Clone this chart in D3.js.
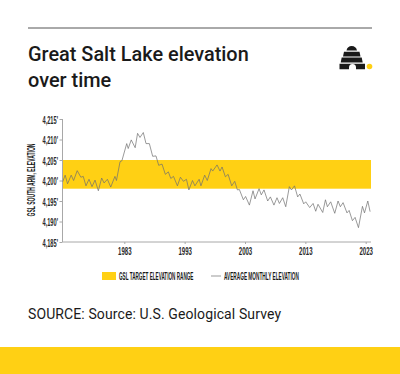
<!DOCTYPE html>
<html>
<head>
<meta charset="utf-8">
<script src="https://cdnjs.cloudflare.com/ajax/libs/d3/7.8.5/d3.min.js"></script>
<style>
    body { margin: 0; background: #fff; }
    svg { display: block; }
    text { fill: #1a1a1a; }
    .narrow { font-family: "Liberation Sans", sans-serif; font-weight: bold; }
</style>
</head>
<body>
<div id="chart"></div>
<script>
const titleLines = ['Great Salt Lake elevation', 'over time'];
const sourceText = 'SOURCE: Source: U.S. Geological Survey';
const yTicks = [4185, 4190, 4195, 4200, 4205, 4210, 4215];
const xTicks = [1983, 1993, 2003, 2013, 2023];
const targetRange = [4198, 4205];
const legendLabels = ['GSL TARGET ELEVATION RANGE', 'AVERAGE MONTHLY ELEVATION'];
const yLabel = 'GSL SOUTH ARM, ELEVATION';

const years = [
    1972.8, 1973.2, 1973.6, 1974.2, 1974.6, 1975.2, 1975.8, 1976.2, 1976.65, 1977.15,
    1977.65, 1978.15, 1978.7, 1979.25, 1979.65, 1980.2, 1980.75, 1981.45, 1981.7, 1982.3,
    1982.6, 1983.4, 1983.65, 1984.15, 1984.8, 1985.2, 1985.6, 1986.15, 1986.6, 1987.15,
    1987.7, 1988.25, 1988.7, 1989.25, 1989.8, 1990.3, 1990.7, 1991.15, 1991.8, 1992.3,
    1992.8, 1993.3, 1993.7, 1994.3, 1994.7, 1995.4, 1995.7, 1996.32, 1996.75, 1997.37,
    1997.65, 1998.37, 1998.86, 1999.2, 1999.75, 2000.2, 2000.8, 2001.3, 2001.74, 2002.07,
    2002.73, 2003.1, 2003.73, 2004.33, 2004.66, 2005.33, 2005.7, 2006.15, 2006.76, 2007.2,
    2007.8, 2008.3, 2008.7, 2009.25, 2009.75, 2010.35, 2010.7, 2011.2, 2011.73, 2012.1,
    2012.73, 2013.06, 2013.72, 2014.28, 2014.72, 2015.1, 2015.88, 2016.33, 2016.65, 2017.2,
    2017.87, 2018.42, 2018.8, 2019.25, 2019.9, 2020.25, 2020.8, 2021.24, 2021.8, 2022.46,
    2022.8, 2023.35, 2023.73
];
const elevation = [
    4199.7, 4201.3, 4199.2, 4201.3, 4200, 4202.4, 4200.8, 4201, 4198.7, 4200.3,
    4198.5, 4200.1, 4197.5, 4200.6, 4199.4, 4200.3, 4198.4, 4201, 4200, 4204.6,
    4204.8, 4209, 4207.8, 4209.9, 4208, 4211.5, 4210.5, 4211.7, 4209, 4209,
    4205.9, 4206, 4203.7, 4204, 4201.5, 4202.1, 4200.5, 4201, 4198.7, 4200.8,
    4199.8, 4200.3, 4197.7, 4200, 4198.7, 4200.3, 4198.7, 4201.3, 4200, 4202.9,
    4202.3, 4203.8, 4202.3, 4203.3, 4200.9, 4201.5, 4198.7, 4199.8, 4197.7, 4197.8,
    4195.3, 4196.1, 4194, 4197.5, 4195.5, 4198, 4196.5, 4197.7, 4195, 4196,
    4194, 4195.8, 4194.4, 4195.8, 4193.6, 4198.5, 4197.7, 4198.7, 4196, 4196.7,
    4194.3, 4194.8, 4193.4, 4194.4, 4192.5, 4194.2, 4192.2, 4195.3, 4193.6, 4194.8,
    4192, 4195, 4193.6, 4194.6, 4192.1, 4192.7, 4190.2, 4191, 4188.5, 4193.7,
    4192.1, 4195, 4192.4
];

const width = 400, height = 374;
const yellow = '#ffd014';
const lineColor = '#6e6e6e';
const axisColor = '#a8a8a8';

const svg = d3.select('#chart').append('svg')
    .attr('width', width)
    .attr('height', height);

// squeeze a text horizontally to a given width, the font is very condensed in the original
function squeeze(sel, w, px, py, rot) {
    sel.each(function () {
        const t = d3.select(this);
        const k = w / this.getComputedTextLength();
        t.attr('x', 0).attr('y', 0)
            .attr('transform', `translate(${px}, ${py}) rotate(${rot || 0}) scale(${k}, 1)`);
    });
}

// header
svg.append('line')
    .attr('x1', 28).attr('x2', 372)
    .attr('y1', 28).attr('y2', 28)
    .attr('stroke', '#555')
    .attr('stroke-width', 1);

titleLines.forEach((t, i) => {
    svg.append('text')
        .attr('x', 28)
        .attr('y', 61 + i * 26)
        .style('font-family', 'Roboto, sans-serif')
        .style('font-size', '19.9px')
        .style('font-weight', 500)
        .text(t);
});

// beehive logo
const hive = svg.append('g').attr('fill', '#1a1a1a');
hive.append('path').attr('d', 'M346.500 50.600c.5-3 2.500-4.600 5.200-4.600s4.800 1.600 5.300 4.600z');
hive.append('path').attr('d', 'M344 51.700h15.500l1 4.700h-17.500z');
hive.append('path').attr('d', 'M341.700 57.600h20l1 5h-22z');
hive.append('path').attr('d', 'M339.500 63.800h25.500v5.500h-9v-1.800a3.500 3.500 0 0 0-7 0v1.800h-9.500z');
svg.append('circle')
    .attr('cx', 369.5).attr('cy', 66.5).attr('r', 2.8)
    .attr('fill', yellow);

// scales
const x = d3.scaleLinear().domain([1983, 2023]).range([124.3, 365.7]);
const y = d3.scaleLinear().domain([4185, 4215]).range([242, 119]);
const xStart = 62.5, xEnd = 371;

svg.append('rect')
    .attr('x', xStart)
    .attr('y', y(targetRange[1]))
    .attr('width', xEnd - xStart)
    .attr('height', y(targetRange[0]) - y(targetRange[1]))
    .attr('fill', yellow);

// axes
const yAxis = svg.append('g')
    .attr('transform', `translate(${xStart}, 0)`)
    .call(d3.axisLeft(y).tickValues(yTicks).tickSize(3).tickPadding(2)
        .tickFormat(d => d3.format(',')(d) + "'"));
const xAxis = svg.append('g')
    .attr('transform', 'translate(0, 242)')
    .call(d3.axisBottom(x).tickValues(xTicks).tickSize(2).tickPadding(4).tickFormat(d3.format('d')));

[yAxis, xAxis].forEach(a => {
    a.selectAll('path, line').attr('stroke', axisColor);
    a.selectAll('text')
        .attr('class', 'narrow')
        .attr('dy', null)
        .style('font-size', '11px')
        .style('fill', '#2a2a2a');
});
yAxis.select('.domain').attr('d', 'M0,119V242');
xAxis.select('.domain').attr('d', `M${xStart},0H${xEnd}`);
yAxis.selectAll('text')
    .attr('text-anchor', 'end')
    .call(squeeze, 15.5, -4.5, 4);
xAxis.selectAll('text')
    .attr('text-anchor', 'middle')
    .call(squeeze, 13.5, 0, 13);

svg.append('text')
    .attr('class', 'narrow')
    .attr('text-anchor', 'middle')
    .style('font-size', '10px')
    .text(yLabel)
    .call(squeeze, 73, 35, 180, -90);

// elevation line
const line = d3.line()
    .x(d => x(d[0]))
    .y(d => y(d[1]));

svg.append('path')
    .datum(d3.zip(years, elevation))
    .attr('d', line)
    .attr('fill', 'none')
    .attr('stroke', lineColor)
    .attr('stroke-width', 0.7);

// legend
svg.append('rect')
    .attr('x', 102).attr('y', 272)
    .attr('width', 14).attr('height', 8)
    .attr('fill', yellow);
svg.append('text')
    .attr('class', 'narrow')
    .style('font-size', '10px')
    .text(legendLabels[0])
    .call(squeeze, 74.5, 119, 279.5);
svg.append('line')
    .attr('x1', 211).attr('x2', 221)
    .attr('y1', 276).attr('y2', 276)
    .attr('stroke', lineColor)
    .attr('stroke-width', 0.7);
svg.append('text')
    .attr('class', 'narrow')
    .style('font-size', '10px')
    .text(legendLabels[1])
    .call(squeeze, 75, 224, 279.5);

// source and footer band
svg.append('text')
    .attr('x', 28).attr('y', 319)
    .style('font-family', 'Roboto, sans-serif')
    .style('font-size', '14px')
    .attr('textLength', 253)
    .text(sourceText);

svg.append('rect')
    .attr('x', 0).attr('y', 347)
    .attr('width', width).attr('height', height - 347)
    .attr('fill', yellow);
</script>
</body>
</html>
